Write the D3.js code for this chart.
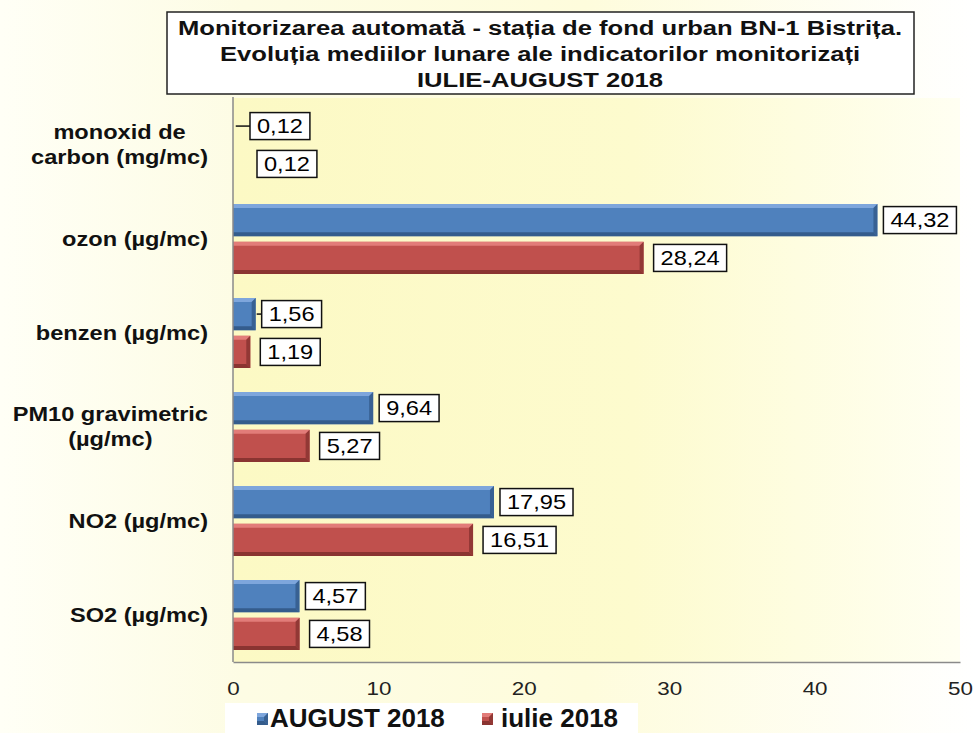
<!DOCTYPE html>
<html>
<head>
<meta charset="utf-8">
<script src="https://cdn.jsdelivr.net/npm/d3@7"></script>
<style>
  body { margin: 0; background: #fff; }
  svg { display: block; font-family: Arial, "Liberation Sans", sans-serif; }
</style>
</head>
<body>
<svg id="chart" width="976" height="733"></svg>
<script>
// chart data
const categories = [
  ['monoxid de', 'carbon (mg/mc)'],
  ['ozon (µg/mc)'],
  ['benzen (µg/mc)'],
  ['PM10 gravimetric', '(µg/mc)'],
  ['NO2 (µg/mc)'],
  ['SO2 (µg/mc)']
]
const seriesNames = ['AUGUST 2018', 'iulie 2018']
const august = [0.12, 44.32, 1.56, 9.64, 17.95, 4.57]
const iulie = [0.12, 28.24, 1.19, 5.27, 16.51, 4.58]
const xTicks = [0, 10, 20, 30, 40, 50]
const titleLines = [
  'Monitorizarea automată  - stația de fond urban BN-1 Bistrița.',
  'Evoluția mediilor lunare ale indicatorilor monitorizați',
  'IULIE-AUGUST 2018'
]

const W = 976
const H = 733
const margin = { top: 98, right: 16, bottom: 71, left: 233 }
const SX = 1.18 // the source picture is stretched sideways, so is the text
const colors = {
  'AUGUST 2018': { base: '#4f81bd', light: '#7ea6dc', dark: '#345c8c' },
  'iulie 2018': { base: '#c0504d', light: '#e27c79', dark: '#8a3431' }
}

const svg = d3.select('#chart')
const defs = svg.append('defs')

// backgrounds
const bgGrad = defs.append('linearGradient').attr('id', 'bg')
bgGrad.append('stop').attr('offset', '0%').attr('stop-color', '#fffff6')
bgGrad.append('stop').attr('offset', '25%').attr('stop-color', '#fdfce4')
bgGrad.append('stop').attr('offset', '60%').attr('stop-color', '#fefcdc')
bgGrad.append('stop').attr('offset', '100%').attr('stop-color', '#ffffff')

const plotGrad = defs.append('linearGradient').attr('id', 'plotbg')
plotGrad.append('stop').attr('offset', '0%').attr('stop-color', '#fcf9c4')
plotGrad.append('stop').attr('offset', '55%').attr('stop-color', '#fdfbce')
plotGrad.append('stop').attr('offset', '100%').attr('stop-color', '#fffff2')

svg.append('rect').attr('width', W).attr('height', H).attr('fill', 'url(#bg)')

const innerW = W - margin.left - margin.right
const innerH = H - margin.top - margin.bottom

const x = d3.scaleLinear().domain([0, 50]).range([margin.left, margin.left + innerW])
const y0 = d3.scaleBand().domain(d3.range(categories.length)).range([margin.top, margin.top + innerH])
const y1 = d3.scaleBand().domain(seriesNames).range([12, y0.bandwidth() - 12]).paddingInner(0.15)

svg.append('rect')
  .attr('x', margin.left).attr('y', margin.top)
  .attr('width', innerW).attr('height', innerH)
  .attr('fill', 'url(#plotbg)')

// bevelled bar, like the office 3d style
function bevelBar (g, x0, x1, top, h, c) {
  const b = Math.min(4, (x1 - x0) / 2)
  g.append('rect').attr('x', x0).attr('y', top).attr('width', x1 - x0).attr('height', h).attr('fill', c.base)
  g.append('polygon').attr('fill', c.light)
    .attr('points', [[x0, top], [x1, top], [x1 - b, top + b], [x0, top + b]].join(' '))
  g.append('polygon').attr('fill', c.dark)
    .attr('points', [[x0, top + h], [x1, top + h], [x1 - b, top + h - b], [x0, top + h - b]].join(' '))
  g.append('polygon').attr('fill', c.dark).attr('opacity', 0.85)
    .attr('points', [[x1, top], [x1, top + h], [x1 - b, top + h - b], [x1 - b, top + b]].join(' '))
}

// text placed at (px, py) and stretched sideways
function wideText (parent, px, py, sx) {
  return parent.append('g')
    .attr('transform', `translate(${px},${py}) scale(${sx},1)`)
    .append('text')
}

const rows = categories.map((c, i) => ({ i, values: [august[i], iulie[i]] }))
const barsG = svg.append('g').attr('class', 'bars')
const labelsG = svg.append('g').attr('class', 'labels')

rows.forEach(r => {
  r.values.forEach((v, k) => {
    const name = seriesNames[k]
    const top = y0(r.i) + y1(name)
    const h = y1.bandwidth()
    const xEnd = x(v)
    const g = barsG.append('g')
    if (xEnd - x(0) > 2.5) bevelBar(g, x(0), xEnd, top, h, colors[name])

    // data label box
    const txt = v.toFixed(2).replace('.', ',')
    const bx = k === 0 ? Math.max(xEnd + 6, x(0) + 17) : Math.max(xEnd + 10, x(0) + 24)
    const cy = top + h / 2
    const box = labelsG.append('rect')
    const t = wideText(labelsG, bx + 7, cy + 7, SX)
      .attr('font-size', 20).attr('fill', '#000')
      .text(txt)
    const tw = t.node().getComputedTextLength() * SX
    box.attr('x', bx).attr('y', cy - 13.5)
      .attr('width', tw + 14).attr('height', 27)
      .attr('fill', '#fff').attr('stroke', '#111').attr('stroke-width', 1.5)
    if (k === 0 && v < 2) {
      labelsG.append('line')
        .attr('x1', Math.max(xEnd, x(0)) + 1).attr('x2', bx).attr('y1', cy).attr('y2', cy)
        .attr('stroke', '#111').attr('stroke-width', 1.5)
    }
  })
})

// category labels, each block centred on itself and right-aligned
const catG = svg.append('g').attr('class', 'cats')
categories.forEach((lines, i) => {
  const cy = y0(i) + y0.bandwidth() / 2
  const t = wideText(catG, 208, 0, SX)
    .attr('font-size', 20).attr('font-weight', 'bold')
    .attr('fill', '#111')
    .attr('text-anchor', 'middle')
  lines.forEach((l, j) => {
    t.append('tspan').attr('x', 0)
      .attr('y', cy + 7 + (j - (lines.length - 1) / 2) * 25)
      .text(l)
  })
  const maxW = d3.max(t.selectAll('tspan').nodes(), n => n.getComputedTextLength())
  t.selectAll('tspan').attr('x', -maxW / 2)
})

// axes
const xAxis = d3.axisBottom(x).tickValues(xTicks).tickSize(0).tickPadding(20).tickFormat(d3.format('d'))
const ax = svg.append('g')
  .attr('transform', `translate(0,${margin.top + innerH})`)
  .call(xAxis)
ax.select('.domain').attr('stroke', '#8a8a8a').attr('stroke-width', 1.5)
ax.selectAll('text')
  .attr('font-size', 19).attr('fill', '#222')
  .attr('font-family', 'Arial, "Liberation Sans", sans-serif')
  .attr('transform', `scale(${SX},1)`)

svg.append('line')
  .attr('x1', x(0)).attr('x2', x(0))
  .attr('y1', margin.top - 1).attr('y2', margin.top + innerH)
  .attr('stroke', '#8a8a8a').attr('stroke-width', 1.5)

// title box
const title = svg.append('g').attr('class', 'title')
title.append('rect')
  .attr('x', 167).attr('y', 12).attr('width', 747).attr('height', 82)
  .attr('fill', '#fff').attr('stroke', '#222').attr('stroke-width', 1.5)
titleLines.forEach((l, j) => {
  wideText(title, 540, 35 + j * 26, 1.22)
    .attr('text-anchor', 'middle')
    .attr('font-size', 21).attr('font-weight', 'bold').attr('fill', '#111')
    .text(l)
})

// legend
const leg = svg.append('g').attr('class', 'legend')
leg.append('rect').attr('x', 225).attr('y', 703).attr('width', 413).attr('height', 30).attr('fill', '#fff')
const legX = [257, 482]
const legText = [270, 501]
seriesNames.forEach((name, k) => {
  const c = colors[name]
  bevelBar(leg, legX[k], legX[k] + 11, 713, 12, c)
  wideText(leg, legText[k], 727, 1.04)
    .attr('font-size', 25).attr('font-weight', 'bold').attr('fill', '#111')
    .text(name)
})
</script>
</body>
</html>
